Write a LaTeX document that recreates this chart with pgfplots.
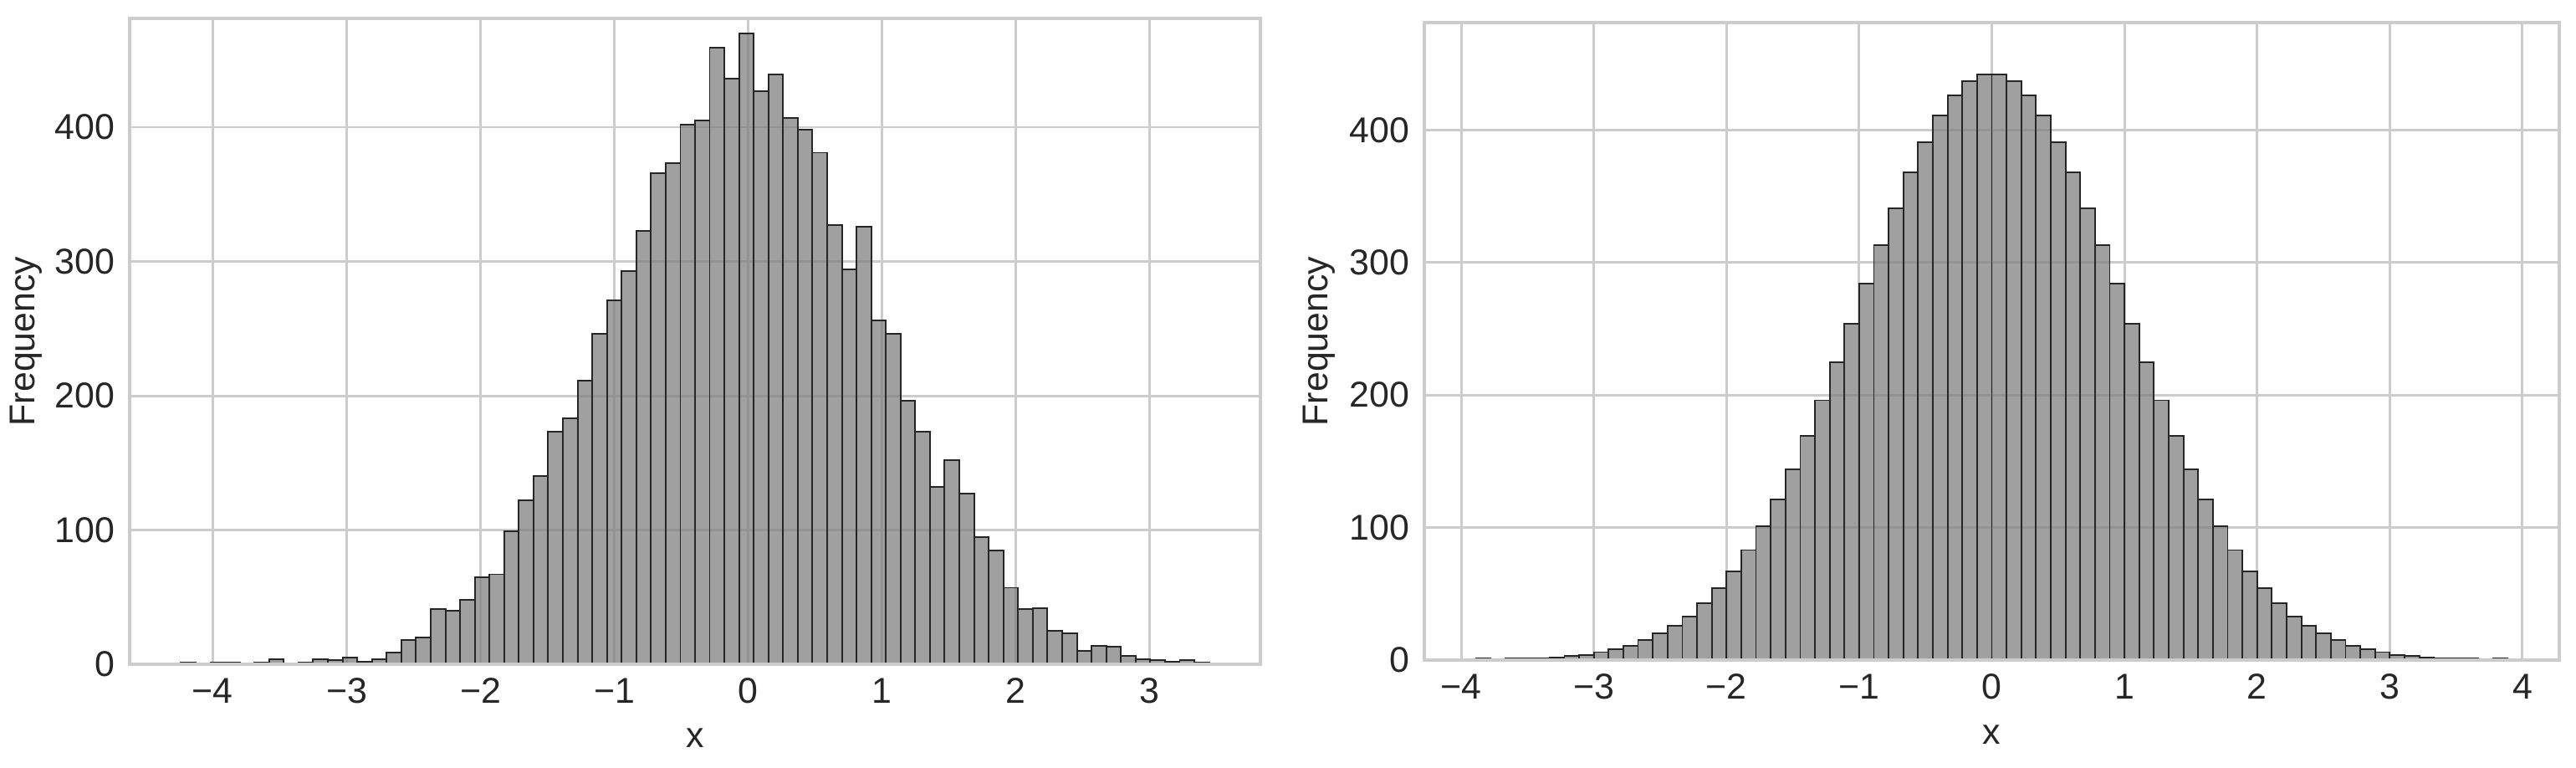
\documentclass[border=0pt]{standalone}
\usepackage{fontspec}
\setmainfont{Liberation Sans}
\usepackage{pgfplots}
\pgfplotsset{compat=1.18}

% shared look of both panels
\pgfplotsset{
  histax/.style={
    scale only axis,
    anchor=south west,
    ymin=0, ymax=481,
    ytick={0,100,200,300,400},
    yticklabels={0,100,200,300,400},
    grid=major,
    major grid style={black!20, line width=0.85pt},
    axis line style={black!20, line width=1.15pt},
    major tick length=0pt,
    tick label style={font=\fontsize{12.2}{14}\selectfont, text=black!85},
    label style={font=\fontsize{12.2}{14}\selectfont, text=black!85},
    yticklabel style={inner sep=0pt, anchor=east, xshift=-0.17cm},
    xticklabel style={inner sep=0pt, anchor=north, yshift=-0.16cm},
    ylabel={Frequency},
    xlabel={x},
  },
  histbar/.style={ybar interval, fill=gray, fill opacity=0.75,
    draw=black!85, line width=0.55pt},
}

\begin{document}
\begin{tikzpicture}
\path[use as bounding box] (0,0) rectangle (30.8,9.17);

% left panel: sample histogram
\begin{axis}[histax,
  at={(1.55cm,1.23cm)}, width=13.52cm, height=7.72cm,
  xmin=-4.621, xmax=3.826,
  xtick={-4,-3,-2,-1,0,1,2,3},
  xticklabels={−4,−3,−2,−1,0,1,2,3},
  ylabel style={at={(axis description cs:-0.0913,0.5)}, anchor=center},
  xlabel style={at={(axis description cs:0.5,-0.114)}, anchor=center},
]
\addplot[histbar] coordinates {
(-4.237,1) (-4.127,0) (-4.018,1) (-3.908,1) (-3.799,0) (-3.689,1) (-3.579,4)
(-3.470,0) (-3.360,1) (-3.250,4) (-3.140,3) (-3.030,5) (-2.921,2) (-2.811,4)
(-2.701,9) (-2.592,18) (-2.482,20) (-2.372,41) (-2.262,40) (-2.153,48) (-2.043,65)
(-1.933,67) (-1.824,99) (-1.714,122) (-1.604,140) (-1.495,173) (-1.385,183) (-1.275,211)
(-1.165,246) (-1.056,271) (-0.946,293) (-0.836,323) (-0.727,366) (-0.617,373) (-0.507,402)
(-0.398,405) (-0.288,459) (-0.178,436) (-0.069,470) (0.041,427) (0.151,439) (0.261,407)
(0.370,398) (0.480,381) (0.590,327) (0.700,294) (0.809,326) (0.919,256) (1.029,246)
(1.138,196) (1.248,173) (1.358,132) (1.467,152) (1.577,127) (1.687,95) (1.797,85)
(1.906,57) (2.016,41) (2.126,42) (2.235,25) (2.345,23) (2.455,10) (2.564,14)
(2.674,13) (2.784,6) (2.894,4) (3.003,3) (3.113,2) (3.223,3) (3.332,1)
(3.442,1)
};
\draw[black!20, line width=1.15pt] (rel axis cs:0,0) rectangle (rel axis cs:1,1);
\end{axis}

% right panel: smooth normal-shaped histogram
\begin{axis}[histax,
  at={(17.03cm,1.28cm)}, width=13.57cm, height=7.62cm,
  xmin=-4.278, xmax=4.278,
  xtick={-4,-3,-2,-1,0,1,2,3,4},
  xticklabels={−4,−3,−2,−1,0,1,2,3,4},
  ylabel style={at={(axis description cs:-0.0929,0.5)}, anchor=center},
  xlabel style={at={(axis description cs:0.5,-0.117)}, anchor=center},
]
\addplot[histbar] coordinates {
(-3.889,1) (-3.778,0) (-3.667,1) (-3.556,1) (-3.444,1) (-3.333,2) (-3.222,3)
(-3.111,4) (-3.000,6) (-2.889,8) (-2.778,11) (-2.667,15) (-2.556,20) (-2.444,26)
(-2.333,33) (-2.222,43) (-2.111,54) (-2.000,67) (-1.889,83) (-1.778,101) (-1.667,121)
(-1.556,144) (-1.444,169) (-1.333,196) (-1.222,225) (-1.111,254) (-1.000,284) (-0.889,313)
(-0.778,341) (-0.667,368) (-0.556,391) (-0.444,411) (-0.333,426) (-0.222,437) (-0.111,442)
(0.000,442) (0.111,437) (0.222,426) (0.333,411) (0.444,391) (0.556,368) (0.667,341)
(0.778,313) (0.889,284) (1.000,254) (1.111,225) (1.222,196) (1.333,169) (1.444,144)
(1.556,121) (1.667,101) (1.778,83) (1.889,67) (2.000,54) (2.111,43) (2.222,33)
(2.333,26) (2.444,20) (2.556,15) (2.667,11) (2.778,8) (2.889,6) (3.000,4)
(3.111,3) (3.222,2) (3.333,1) (3.444,1) (3.556,1) (3.667,0) (3.778,1)
(3.889,1)
};
\draw[black!20, line width=1.15pt] (rel axis cs:0,0) rectangle (rel axis cs:1,1);
\end{axis}
\end{tikzpicture}
\end{document}
